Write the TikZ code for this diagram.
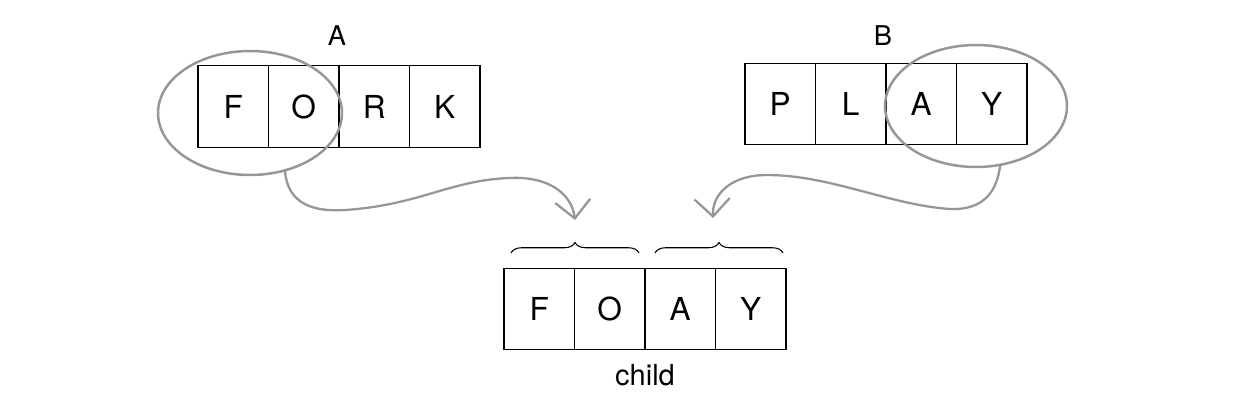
\documentclass[tikz,border=0pt]{standalone}
\usepackage{fontspec}
\setmainfont{TeX Gyre Heros}
\usetikzlibrary{shapes.geometric,decorations.pathreplacing,arrows.meta}
\definecolor{hl}{RGB}{150,150,150}
\tikzset{
  cell/.style={draw=black, line width=0.8pt, minimum width=1.41cm, minimum height=1.63cm, inner sep=0pt, font=\fontsize{18}{21}\selectfont},
  lbl/.style={font=\fontsize{15.5}{18}\selectfont, inner sep=0pt},
  ring/.style={draw=hl, line width=1.4pt, ellipse, inner sep=0pt},
  flow/.style={draw=hl, line width=1.3pt, -{Straight Barb[length=10pt,width=20pt,line width=1.3pt]}},
  brc/.style={draw=black, line width=0.6pt, decorate, decoration={brace, amplitude=6pt}}
}
\begin{document}
\begin{tikzpicture}[x=0.02cm,y=-0.02cm]
\useasboundingbox (0,0) rectangle (1240,409);
% parent A
\node[cell] (a1) at (233.25,106.5) {F};
\node[cell] (a2) at (303.75,106.5) {O};
\node[cell] (a3) at (374.25,106.5) {R};
\node[cell] (a4) at (444.75,106.5) {K};
\node[lbl] (la) at (337,36) {A};
% parent B
\node[cell] (b1) at (780.25,104) {P};
\node[cell] (b2) at (850.75,104) {L};
\node[cell] (b3) at (921.25,104) {A};
\node[cell] (b4) at (991.75,104) {Y};
\node[lbl] (lb) at (883,36) {B};
% child
\node[cell] (c1) at (539.25,309) {F};
\node[cell] (c2) at (609.75,309) {O};
\node[cell] (c3) at (680.25,309) {A};
\node[cell] (c4) at (750.75,309) {Y};
\node[lbl, font=\fontsize{16.5}{19}\selectfont] (lc) at (645,375) {child};
% ellipses
\node[ring, minimum width=3.68cm, minimum height=2.48cm] (ea) at (250,113) {};
\node[ring, minimum width=3.64cm, minimum height=2.44cm] (eb) at (976,106) {};
% braces
\coordinate (br1s) at (511,253);
\coordinate (br1e) at (639,253);
\coordinate (br2s) at (655,253);
\coordinate (br2e) at (783,253);
\draw[brc] (br1s) -- (br1e);
\draw[brc] (br2s) -- (br2e);
% arrows
\coordinate (sa) at (285,170);
\coordinate (ta) at (575,220);
\coordinate (sb) at (1000,166);
\coordinate (tb) at (713,218);
\draw[flow] (sa) .. controls (287,205) and (315,212) .. (345,210)
  .. controls (420,205) and (450,180) .. (510,178)
  .. controls (550,176) and (572,195) .. (ta);
\draw[flow] (sb) .. controls (996,200) and (975,210) .. (950,209)
  .. controls (890,205) and (830,175) .. (767,175)
  .. controls (730,175) and (712,195) .. (tb);
\end{tikzpicture}
\end{document}
